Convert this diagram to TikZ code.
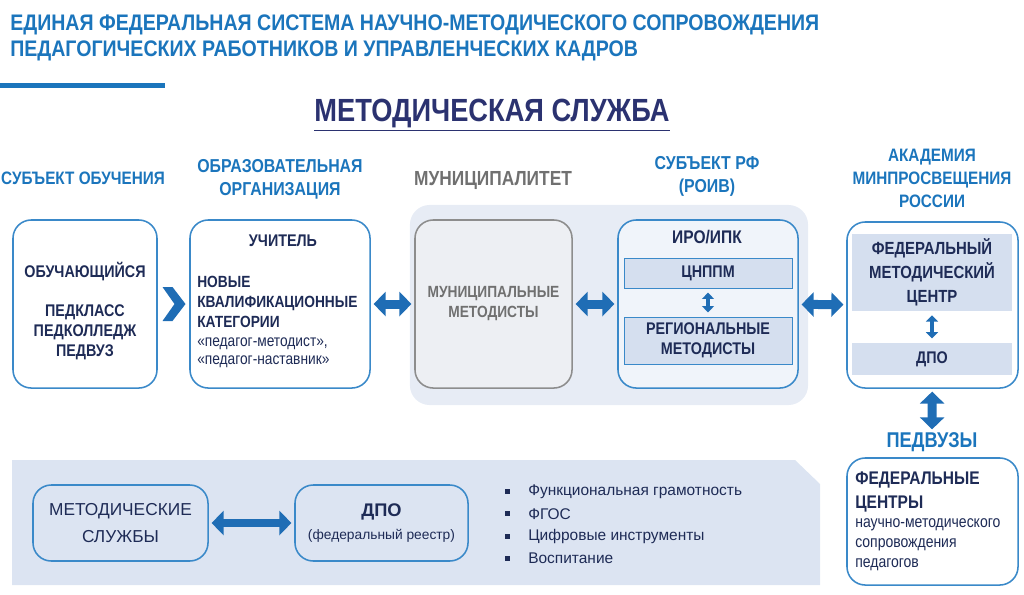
\documentclass[tikz,border=0pt]{standalone}
\usepackage{fontspec}
\setmainfont{Liberation Sans}
\newfontfamily\narrowfont[FakeStretch=0.85]{Liberation Sans}
\newfontfamily\headfont[FakeStretch=0.87]{Liberation Sans}
\usetikzlibrary{positioning,arrows.meta,calc}

\definecolor{hdrblue}{HTML}{1B75BC}
\definecolor{lineblue}{HTML}{3A89C9}
\definecolor{arrblue}{HTML}{1F6DB5}
\definecolor{navy}{HTML}{1E2B56}
\definecolor{titlenavy}{HTML}{2B3270}
\definecolor{panelbg}{HTML}{DCE4F2}
\definecolor{zonebg}{HTML}{E7ECF5}
\definecolor{irobg}{HTML}{F0F4FA}
\definecolor{innerbg}{HTML}{D5DFEF}
\definecolor{munibg}{HTML}{EDEFF3}
\definecolor{greytxt}{HTML}{707070}

\begin{document}
\begin{tikzpicture}[
x=0.025cm, y=-0.025cm,
font=\narrowfont\bfseries\fontsize{12}{14.2}\selectfont,
hdr/.style={text=hdrblue, align=center, inner sep=0pt, font=\narrowfont\bfseries\fontsize{12.8}{16.4}\selectfont},
box/.style={draw=lineblue, line width=1.1pt, rounded corners=13pt, fill=white, text=navy, align=center},
inbox/.style={draw=lineblue, line width=0.6pt, fill=innerbg, text=navy, align=center, minimum width=4.2cm},
acbox/.style={fill=innerbg, text=navy, align=center, minimum width=4cm},
txt/.style={text=navy, inner sep=0pt},
dbl/.style={arrblue, line width=6.4pt, {Triangle[length=8.5pt, width=17pt]}-{Triangle[length=8.5pt, width=17pt]}, shorten <=2pt, shorten >=2pt},
sdbl/.style={arrblue, line width=2.8pt, {Triangle[length=4.5pt, width=8.5pt]}-{Triangle[length=4.5pt, width=8.5pt]}, shorten <=3pt, shorten >=3pt},
item/.style={text=navy, inner sep=0pt, font=\fontsize{11}{13}\selectfont}
]
\useasboundingbox (0,0) rectangle (1024,594);

\node[anchor=north west, inner sep=0pt, text=hdrblue, align=left, font=\headfont\bfseries\fontsize{16}{17.8}\selectfont] (head) at (10,15)
  {ЕДИНАЯ ФЕДЕРАЛЬНАЯ СИСТЕМА НАУЧНО-МЕТОДИЧЕСКОГО СОПРОВОЖДЕНИЯ\\ПЕДАГОГИЧЕСКИХ РАБОТНИКОВ И УПРАВЛЕНЧЕСКИХ КАДРОВ};
\fill[hdrblue] (0,83) rectangle (165,88);
\node[inner sep=0pt, text=titlenavy, font=\narrowfont\bfseries\fontsize{22.8}{26}\selectfont] (mtitle) at (492,113) {МЕТОДИЧЕСКАЯ СЛУЖБА};
\draw[titlenavy, line width=1.4pt] ([yshift=-2pt]mtitle.south west) -- ([yshift=-2pt]mtitle.south east);

\node[hdr] (h1) at (83,178) {СУБЪЕКТ ОБУЧЕНИЯ};
\node[hdr, font=\narrowfont\bfseries\fontsize{13.3}{16.4}\selectfont] (h2) at (280,179) {ОБРАЗОВАТЕЛЬНАЯ\\ОРГАНИЗАЦИЯ};
\node[hdr, text=greytxt, font=\narrowfont\bfseries\fontsize{14.5}{16.4}\selectfont] (h3) at (493,181) {МУНИЦИПАЛИТЕТ};
\node[hdr, font=\narrowfont\bfseries\fontsize{13.3}{16.4}\selectfont] (h4) at (707,176) {СУБЪЕКТ РФ\\(РОИВ)};
\node[hdr] (h5) at (932,178) {АКАДЕМИЯ\\МИНПРОСВЕЩЕНИЯ\\РОССИИ};

\node[fill=zonebg, rounded corners=14pt, minimum width=9.95cm, minimum height=5cm] (zone) at (609,305) {};

\node[box, minimum width=3.6cm, minimum height=4.2cm] (learn) at (85,304) {};
\node[txt, align=center] (learntext) at (85,311)
  {ОБУЧАЮЩИЙСЯ\\[14pt]ПЕДКЛАСС\\ПЕДКОЛЛЕДЖ\\ПЕДВУЗ};
\node[box, minimum width=4.5cm, minimum height=4.2cm] (teach) at (280,304) {};
\node[txt] (teachname) at (283,241) {УЧИТЕЛЬ};
\node[txt, anchor=north west, align=left, font=\narrowfont\bfseries\fontsize{11.5}{14.2}\selectfont] (cat) at (197,276)
  {НОВЫЕ\\КВАЛИФИКАЦИОННЫЕ\\КАТЕГОРИИ\\[-1pt]{\mdseries\fontsize{11.5}{12.8}\selectfont «педагог-методист»,}\\[-1pt]{\mdseries\fontsize{11.5}{12.8}\selectfont «педагог-наставник»}};

\node[box, draw=greytxt!80, fill=munibg, text=greytxt, minimum width=3.925cm, minimum height=4.2cm, font=\narrowfont\bfseries\fontsize{11.5}{14.2}\selectfont] (muni) at (493.5,304)
  {МУНИЦИПАЛЬНЫЕ\\МЕТОДИСТЫ};

\node[box, fill=irobg, minimum width=4.5cm, minimum height=4.2cm] (iro) at (708,304) {};
\node[txt, font=\narrowfont\bfseries\fontsize{13}{15}\selectfont] (ironame) at (707,237) {ИРО/ИПК};
\node[inbox, minimum height=0.75cm] (cnppm) at (708,273) {ЦНППМ};
\node[inbox, minimum height=1.175cm] (regm) at (708,340.5) {РЕГИОНАЛЬНЫЕ\\МЕТОДИСТЫ};

\node[box, minimum width=4.275cm, minimum height=4.15cm] (acad) at (932.5,305) {};
\node[acbox, minimum height=1.875cm, font=\narrowfont\bfseries\fontsize{12.5}{17}\selectfont] (fmc) at (932,272.5) {ФЕДЕРАЛЬНЫЙ\\МЕТОДИЧЕСКИЙ\\ЦЕНТР};
\node[acbox, minimum height=0.8cm] (acdpo) at (932,359) {ДПО};

\node[hdr, font=\narrowfont\bfseries\fontsize{15.2}{17}\selectfont] (pedvuz) at (932,442) {ПЕДВУЗЫ};
\node[box, minimum width=4.275cm, minimum height=3.175cm] (fedc) at (932.5,521.5) {};
\node[txt, anchor=north west, align=left, font=\narrowfont\bfseries\fontsize{13}{16.4}\selectfont] (fedcname) at (855,472)
  {ФЕДЕРАЛЬНЫЕ\\ЦЕНТРЫ};
\node[txt, anchor=north west, align=left, font=\narrowfont\fontsize{11.7}{14.2}\selectfont] (fedctext) at (855,518)
  {научно-методического\\сопровождения\\педагогов};

\fill[panelbg] (12,460) -- (795,460) -- (820,484) -- (820,585) -- (12,585) -- cycle;
\node[box, fill=none, minimum width=4.375cm, minimum height=1.9cm, font=\fontsize{12.3}{19}\selectfont] (msl) at (120.5,523) {МЕТОДИЧЕСКИЕ\\СЛУЖБЫ};
\node[box, fill=none, minimum width=4.325cm, minimum height=1.9cm, font=\fontsize{13}{16}\selectfont] (dpo) at (381.5,523)
  {\bfseries ДПО\\{\fontsize{9.8}{13}\selectfont (федеральный реестр)}};
\foreach \t [count=\i] in {Функциональная грамотность, ФГОС, Цифровые инструменты, Воспитание} {
  \node[item, anchor=west] (it\i) at (528,469+22.4*\i) {\t};
  \fill[navy] ($(it\i.west)+(-23,-2.5)$) rectangle ++(5,5);
}

\coordinate (chev) at ($(learn.east)!0.5!(teach.west)$);
\fill[arrblue] ($(chev)+(-11,-17)$) -- ++(10,0) -- ++(13,17) -- ++(-13,17) -- ++(-10,0) -- ++(12,-17) -- cycle;
\draw[dbl] (teach) -- (muni);
\draw[dbl] (muni) -- (iro);
\draw[dbl] (iro) -- (acad);
\draw[sdbl] (cnppm) -- (regm);
\draw[sdbl] (fmc) -- (acdpo);
\draw[dbl] (acad) -- (pedvuz);
\draw[dbl, line width=5.5pt] (msl) -- (dpo);
\end{tikzpicture}
\end{document}
